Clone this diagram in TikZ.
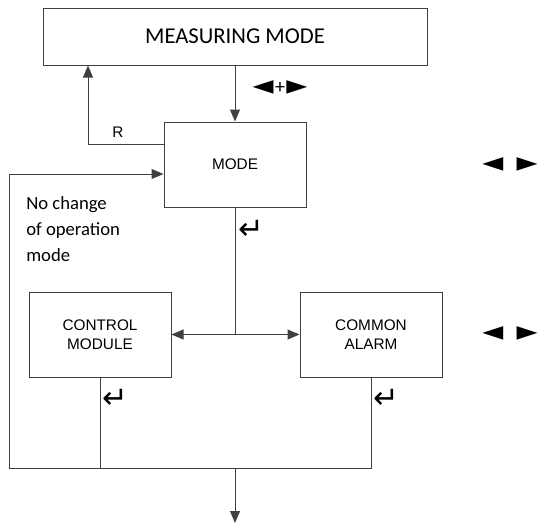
\documentclass[tikz,border=0pt]{standalone}
\usepackage{fontspec}
\setmainfont{Liberation Sans}
\newfontfamily\calfont{Carlito}
\newfontfamily\symfont{DejaVu Sans}
\usetikzlibrary{arrows.meta,positioning}

\tikzset{
  blk/.style={draw=black!75, line width=0.75pt, inner sep=0pt, align=center,
    minimum width=106.5pt, minimum height=63.75pt,
    font=\fontsize{11.5}{14.5}\selectfont},
  flow/.style={draw=black!75, line width=0.75pt, -{Triangle[length=9pt,width=7.5pt]}},
  wire/.style={draw=black!75, line width=0.75pt},
  key/.style={inner sep=0pt, font=\symfont\fontsize{20.5}{20.5}\selectfont},
  enter/.style={inner sep=0pt, font=\symfont\fontsize{23}{23}\selectfont},
  note/.style={inner sep=0pt, font=\calfont\fontsize{14}{19.5}\selectfont, align=left}
}

\begin{document}
\begin{tikzpicture}[x=0.75pt,y=-0.75pt]
  \useasboundingbox (0,0) rectangle (541,525);

  % Boxes
  \node[blk, minimum width=288pt, minimum height=42.75pt,
        font=\calfont\fontsize{17}{18}\selectfont] (meas) at (235,36.5) {MEASURING MODE};
  \node[blk] (mode) at (235,164.5) {MODE};
  \node[blk] (ctrl) at (100,334.5) {CONTROL\\MODULE};
  \node[blk] (alarm) at (371,334.5) {COMMON\\ALARM};

  % Helper points
  \coordinate (rturn) at (88,144);
  \coordinate (looptop) at (9,174);
  \coordinate (loopbot) at (9,468);
  \coordinate (split) at (235,334.5);
  \coordinate (merge) at (235,468);
  \coordinate (out) at (235,523);

  % Connectors
  \draw[flow] (meas.south) -- (mode.north);
  \draw[flow] (mode.west |- rturn) -- (rturn) -- (rturn |- meas.south);
  \draw[flow] (loopbot) -- (looptop) -- (looptop -| mode.west);
  \draw[wire] (mode.south) -- (split);
  \draw[flow] (split) -- (ctrl.east);
  \draw[flow] (split) -- (alarm.west);
  \draw[wire] (ctrl.south) -- (ctrl.south |- loopbot);
  \draw[wire] (alarm.south) -- (alarm.south |- loopbot) -- (loopbot);
  \draw[flow] (merge) -- (out);

  % Labels
  \node[inner sep=0pt, font=\fontsize{11.5}{12}\selectfont] (rlab) at (118,132) {R};
  \node[key] (keymeas) at (280,88) {◄\hspace{1pt}\raisebox{1pt}{\calfont\fontsize{15}{15}\selectfont+}\hspace{1pt}►};
  \node[key] (keymode) at (510,165) {◄\hspace{10pt}►};
  \node[key] (keyalarm) at (510,334) {◄\hspace{10pt}►};
  \node[enter] (entmode) at (251,230) {↵};
  \node[enter] (entctrl) at (115,399) {↵};
  \node[enter] (entalarm) at (386,399) {↵};
  \node[note, anchor=west] (nochg) at (26,229.5) {No change\\of operation\\mode};

\end{tikzpicture}
\end{document}
